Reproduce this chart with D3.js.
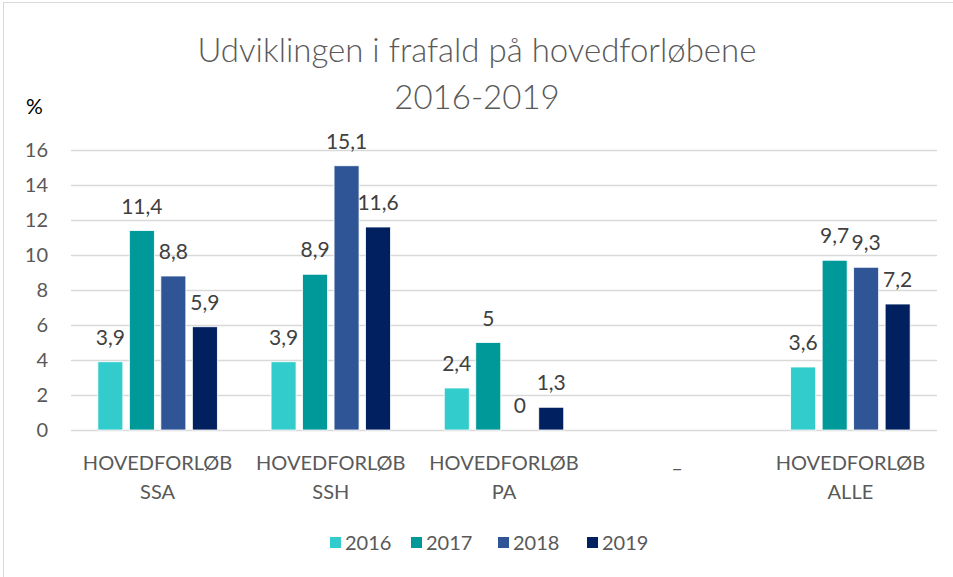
<!DOCTYPE html>
<html>
<head>
<meta charset="utf-8">
<script src="https://cdn.jsdelivr.net/npm/d3@7"></script>
<style>
  body { margin: 0; background: #fff; }
  svg { font-family: Lato, "Liberation Sans", sans-serif; }
</style>
</head>
<body>
<svg id="chart" width="953" height="577"></svg>
<script>
// chart data
var categories = ["HOVEDFORLØB SSA", "HOVEDFORLØB SSH", "HOVEDFORLØB PA", "_", "HOVEDFORLØB ALLE"];
var years = ["2016", "2017", "2018", "2019"];
var v2016 = [3.9, 3.9, 2.4, null, 3.6];
var v2017 = [11.4, 8.9, 5, null, 9.7];
var v2018 = [8.8, 15.1, 0, null, 9.3];
var v2019 = [5.9, 11.6, 1.3, null, 7.2];
var yTicks = [0, 2, 4, 6, 8, 10, 12, 14, 16];
var colors = ["#33CCCC", "#009999", "#2F5597", "#002060"];

var series = [v2016, v2017, v2018, v2019];

var svg = d3.select("#chart");

// frame
svg.append("rect")
  .attr("x", 3.5).attr("y", 2.5)
  .attr("width", 980).attr("height", 600)
  .attr("fill", "none").attr("stroke", "#D9D9D9");

// title
var title = svg.append("text")
  .attr("text-anchor", "middle")
  .attr("fill", "#595959")
  .style("font-size", "33px")
  .style("font-weight", 300);
title.append("tspan").attr("x", 477).attr("y", 62).text("Udviklingen i frafald på hovedforløbene");
title.append("tspan").attr("x", 477).attr("y", 109).text("2016-2019");

svg.append("text")
  .attr("x", 26).attr("y", 114)
  .attr("fill", "#000")
  .style("font-size", "21px")
  .text("%");

// scales
yScale = d3.scaleLinear()
  .domain([0, 16])
  .range([430, 150]);

xScale = d3.scaleBand()
  .domain(categories)
  .range([71, 937]);

var groupW = 119.5;
x1 = d3.scaleBand()
  .domain(years)
  .range([0, groupW])
  .paddingInner(0.206);

// grid
laxis = d3.axisLeft(yScale)
  .tickValues(yTicks)
  .tickSize(-(937 - 71))
  .tickPadding(23)
  .tickFormat(d3.format("d"));

var gy = svg.append("g")
  .attr("transform", "translate(71,0)")
  .call(laxis);
gy.select(".domain").remove();
gy.selectAll(".tick line").attr("stroke", "#D9D9D9").attr("stroke-width", 1.3);
gy.selectAll(".tick text")
  .attr("fill", "#595959")
  .style("font-size", "20px")
  .style("font-family", "Lato, 'Liberation Sans', sans-serif");

// bars
var rows = [];
series.forEach(function (s, j) {
  s.forEach(function (v, i) {
    if (v !== null) rows.push({cat: categories[i], year: years[j], value: v, color: colors[j]});
  });
});

function barX(d) {
  return xScale(d.cat) + (xScale.bandwidth() - groupW) / 2 + x1(d.year);
}

svg.append("g").selectAll("rect")
  .data(rows)
  .join("rect")
  .attr("x", barX)
  .attr("y", function (d) { return yScale(d.value); })
  .attr("width", x1.bandwidth())
  .attr("height", function (d) { return yScale(0) - yScale(d.value); })
  .attr("fill", function (d) { return d.color; })
  .attr("stroke", "#fff")
  .attr("stroke-width", 0.8);

// value labels
svg.append("g").selectAll("text")
  .data(rows)
  .join("text")
  .attr("x", function (d) { return barX(d) + x1.bandwidth() / 2; })
  .attr("y", function (d) { return yScale(d.value) - 17; })
  .attr("text-anchor", "middle")
  .attr("fill", "#404040")
  .style("font-size", "21px")
  .text(function (d) { return String(d.value).replace(".", ","); });

// category labels
var cl = svg.append("g").selectAll("text")
  .data(categories)
  .join("text")
  .attr("text-anchor", "middle")
  .attr("fill", "#595959")
  .style("font-size", "20px");
cl.each(function (c) {
  var parts = c.split(" ");
  var cx = xScale(c) + xScale.bandwidth() / 2;
  var t = d3.select(this);
  if (parts.length === 1) {
    t.append("tspan").attr("x", cx).attr("y", 467).text(parts[0]);
  } else {
    t.append("tspan").attr("x", cx).attr("y", 470).text(parts[0]);
    t.append("tspan").attr("x", cx).attr("y", 499).text(parts[1]);
  }
});

// legend
var legendX = [330, 411, 498, 587];
var lg = svg.append("g").selectAll("g")
  .data(years)
  .join("g")
  .attr("transform", function (d, i) { return "translate(" + legendX[i] + ",537)"; });
lg.append("rect")
  .attr("width", 11).attr("height", 11)
  .attr("fill", function (d, i) { return colors[i]; });
lg.append("text")
  .attr("x", 15).attr("y", 13)
  .attr("fill", "#595959")
  .style("font-size", "20px")
  .text(function (d) { return d; });
</script>
</body>
</html>
